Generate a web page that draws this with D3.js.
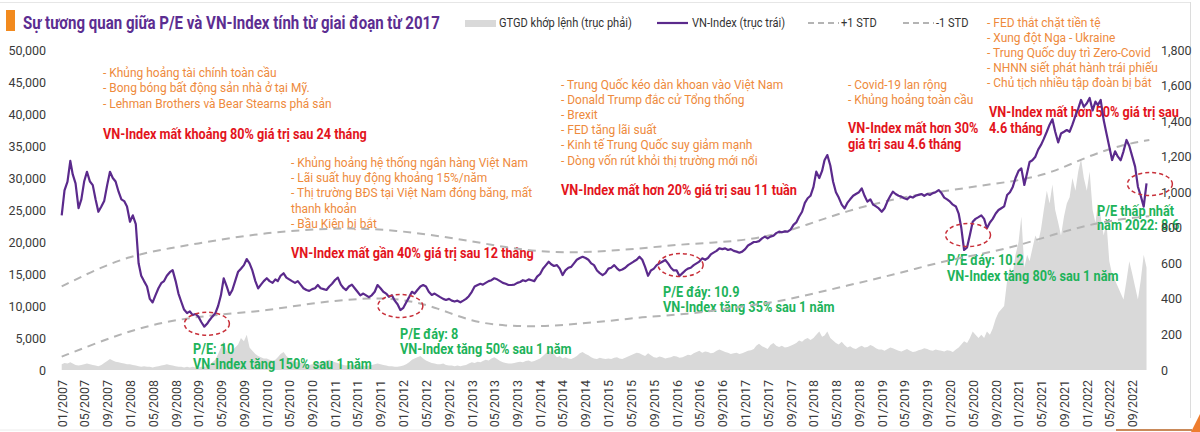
<!DOCTYPE html>
<html><head><meta charset="utf-8">
<script src="https://cdn.jsdelivr.net/npm/d3@7"></script>
<style>
body{margin:0;background:#fff;}
svg text{font-family:Roboto,"Noto Sans",sans-serif;}
</style></head><body>
<svg id="chart" width="1200" height="432"></svg>
<script>
// ---------------- DATA (semi-monthly from 01/2007) ----------------
const vnIndex = [
870,1010,1060,1176,1100,1050,911,960,1060,1115,1060,1040,960,890,920,950,1040,1115,1080,1060,1003,960,950,920,
834,870,820,600,530,500,470,400,380,420,460,488,500,530,550,562,500,430,384,340,320,330,309,315,
300,270,244,260,280,300,319,360,420,516,470,422,450,500,553,570,590,624,600,560,500,459,480,500,
516,500,490,510,500,530,544,520,510,500,490,500,480,460,450,445,455,460,478,460,455,450,470,485,
506,520,480,460,450,470,480,460,440,420,430,420,410,420,440,478,460,440,430,412,420,390,370,337,
350,380,410,440,430,450,470,478,470,440,422,430,420,410,400,394,400,390,385,390,381,390,400,415,
440,470,478,485,480,490,500,505,516,510,500,490,485,478,478,480,490,495,505,500,510,505,500,525,
540,570,590,609,595,585,590,570,534,560,575,580,600,620,630,637,630,620,600,590,560,545,534,545,
570,575,590,572,560,565,575,590,600,610,620,637,620,580,530,560,570,590,600,609,619,600,575,560,
560,529,545,560,570,575,590,600,610,628,620,630,650,660,670,684,680,684,675,680,670,666,660,666,
680,700,710,720,720,725,740,750,740,750,755,770,778,775,780,778,790,816,830,862,890,940,966,980,
1030,1116,1080,1120,1180,1209,1150,1059,1000,970,930,909,940,960,980,990,1000,1022,980,947,960,930,920,909,
890,910,950,980,1003,990,980,975,966,960,975,970,980,985,990,980,990,985,995,1000,1012,995,970,960,
947,930,920,880,800,675,690,760,834,850,860,870,850,797,830,850,880,900,910,920,984,1000,1030,1080,
1120,1134,1041,1110,1170,1180,1200,1240,1266,1300,1340,1380,1410,1340,1280,1330,1340,1350,1340,1380,1430,1470,1519,1480,
1500,1530,1460,1510,1490,1519,1406,1330,1256,1181,1230,1200,1180,1230,1294,1260,1200,1144,1031,980,919,1050
];
const gtgd = [
900,1100,1000,1200,1000,800,700,800,900,1000,900,800,700,600,800,1100,1400,1700,1500,1300,1200,1100,1000,900,
900,800,700,600,500,600,500,500,400,500,600,700,800,900,800,700,600,500,500,400,500,400,500,400,
400,500,500,600,800,1200,1600,2500,3500,4500,3000,2500,3000,3500,4000,5000,4500,5500,3500,3000,2500,2200,2000,1800,
1800,1600,1500,1600,2000,2500,2800,2200,1800,1500,1300,1200,1100,1000,900,800,900,1000,1100,1000,1200,1500,1600,1400,
1200,1100,900,800,700,800,900,700,600,600,700,600,700,800,900,1000,900,800,700,600,600,500,500,600,
700,900,1200,1600,1800,2000,2200,1800,1500,1300,1100,1000,900,900,1000,800,700,700,600,700,600,700,800,1000,
1200,1100,1300,1200,1400,1600,1500,1800,2000,1700,1400,1200,1100,1000,1000,1100,1200,1300,1200,1400,1500,1300,1400,1600,
1800,2200,2600,3000,2800,2500,2000,2200,1800,2000,1800,1700,1900,2200,2600,2800,2500,2300,2000,1800,1700,1900,1800,1700,
1800,1700,1900,2000,1800,1700,1900,2100,2300,2500,2700,2600,2400,2200,2600,2300,2000,1900,2100,2000,1800,1900,2000,2200,
2100,1900,2000,2200,2400,2300,2600,2800,3000,2700,2900,2800,2600,2700,3000,3200,3000,2800,2700,2500,2600,2700,2500,2600,
2800,3000,3100,3300,3800,4100,3700,3500,3300,3900,4200,3800,3600,3800,3500,3600,3800,4000,4200,4600,4400,4800,5000,4700,
5000,5500,6000,5200,5400,6000,5000,4600,4200,4000,4400,3900,3500,3700,3400,3300,3600,3800,3500,3600,3900,3700,3400,3200,
3200,3000,3300,3500,3400,3200,3000,2900,3100,3300,3000,2800,2900,3100,3200,3400,3300,3100,3000,3200,3100,3000,2900,3100,
3000,2800,3200,3500,4000,4500,4200,5000,6000,5500,5000,5500,5000,6000,5500,6500,8000,9000,9500,10000,14000,16000,15000,18000,
20000,24000,16000,18000,17000,19000,21000,20000,22000,25000,28000,26000,29000,25000,23000,21000,24000,26000,27000,30000,28000,31000,33000,30000,
28000,31000,25000,23000,26000,24000,21000,23000,17000,15000,14000,13000,12000,11000,14000,17000,15000,13000,11000,14000,18000,16000
];
// +/-1 STD bands (VN-Index points), months since 01/2007
const stdMonths = [0,6,12,18,24,30,36,42,48,54,60,66,72,78,84,90,96,102,108,114,120,126,132,138,144,150,156,162,168,174,180,186,191];
const plusStd  = [470,565,640,680,712,745,770,787,797,795,780,755,724,690,665,660,670,684,705,715,730,765,830,895,945,985,1010,1040,1065,1110,1200,1265,1294];
const minusStd = [75,150,220,270,300,318,335,366,390,405,400,350,270,248,244,258,275,298,310,330,360,385,430,475,520,570,620,655,700,760,815,850,865];
const leftTicks  = [0,5000,10000,15000,20000,25000,30000,35000,40000,45000,50000];
const rightTicks = [0,200,400,600,800,1000,1200,1400,1600,1800];
// highlighted troughs: [year, month(0-based), day, VN-Index level]
const troughs = [[2009,1,15,260],[2011,11,16,360],[2016,0,22,590],[2020,3,6,759],[2022,11,4,1046]];

const titleText = "Sự tương quan giữa P/E và VN-Index tính từ giai đoạn từ 2017";
const legendItems = ["GTGD khớp lệnh (trục phải)","VN-Index (trục trái)","+1 STD","-1 STD"];

// ---------------- LAYOUT ----------------
const svg = d3.select("#chart");
const dates = vnIndex.map((_, i) => new Date(2007, Math.floor(i / 2), i % 2 ? 16 : 1));
const x = d3.scaleTime().domain([new Date(2007,0,1), new Date(2022,8,1)]).range([61.7, 1132.3]);
const yL = d3.scaleLinear().domain([0,50000]).range([370,50]);
const yR = d3.scaleLinear().domain([0,1800]).range([370,50]);

// horizontal condensing of a text selection so that refText gets width target
function calibrate(sel, refText, target){
  let ratio = 1;
  sel.each(function(){ if (this.textContent === refText) ratio = target / this.getComputedTextLength(); });
  sel.each(function(){
    const px = +this.getAttribute("x");
    d3.select(this).attr("transform", `translate(${px},0) scale(${ratio},1) translate(${-px},0)`);
  });
}

// frame decorations
svg.append("line").attr("x1",0).attr("x2",1190).attr("y1",2.5).attr("y2",2.5).attr("stroke","#e6e6e6");
svg.append("line").attr("x1",1190.5).attr("x2",1190.5).attr("y1",2).attr("y2",418).attr("stroke","#dcdcdc");
svg.append("line").attr("x1",0).attr("x2",1116).attr("y1",430).attr("y2",430).attr("stroke","#ececec");
svg.append("line").attr("x1",1116).attr("x2",1192).attr("y1",430).attr("y2",430).attr("stroke","#c98a5a").attr("stroke-width",2);
svg.append("polygon").attr("points","1200,414 1200,432 1191,432").attr("fill","#ee7d2f");

// GTGD area
svg.append("path").datum(gtgd)
  .attr("fill","#d9d9d9")
  .attr("d", d3.area().x((d,i)=>x(dates[i])).y0(yL(0)).y1(d=>yL(d)));

// ---------------- annotations ----------------
const annG = svg.append("g");
function block(cls, px, py, step, lines){
  lines.forEach((t,k)=>{
    annG.append("text").attr("class",cls).attr("x",px).attr("y",py+k*step).attr("dy","0.35em").text(t);
  });
}
block("or", 103, 72, 15.5, ["- Khủng hoảng tài chính toàn cầu","- Bong bóng bất động sản nhà ở tại Mỹ.","- Lehman Brothers và Bear Stearns phá sản"]);
block("rd", 103, 134, 16, ["VN-Index mất khoảng 80% giá trị sau 24 tháng"]);
block("or", 291, 162, 15.3, ["- Khủng hoảng hệ thống ngân hàng Việt Nam","- Lãi suất huy động khoảng 15%/năm","- Thị trường BĐS tại Việt Nam đóng băng, mất","thanh khoản","- Bầu Kiên bị bắt"]);
block("rd", 291, 253, 16, ["VN-Index mất gần 40% giá trị sau 12 tháng"]);
block("or", 561, 84.3, 15.1, ["- Trung Quốc kéo dàn khoan vào Việt Nam","- Donald Trump đắc cử Tổng thống","- Brexit","- FED tăng lãi suất","- Kinh tế Trung Quốc suy giảm mạnh","- Dòng vốn rút khỏi thị trường mới nổi"]);
block("rd", 561, 190, 16, ["VN-Index mất hơn 20% giá trị sau 11 tuần"]);
block("or", 848, 84, 15.2, ["- Covid-19 lan rộng","- Khủng hoảng toàn cầu"]);
block("rd", 848, 128.3, 16, ["VN-Index mất hơn 30%","giá trị sau 4.6 tháng"]);
block("or", 987, 22.5, 15, ["- FED thắt chặt tiền tệ","- Xung đột Nga - Ukraine","- Trung Quốc duy trì Zero-Covid","- NHNN siết phát hành trái phiếu","- Chủ tịch nhiều tập đoàn bị bắt"]);
block("rd", 989, 112, 15.7, ["VN-Index mất hơn 50% giá trị sau","4.6 tháng"]);
block("gr", 193, 349.3, 15, ["P/E: 10","VN-Index tăng 150% sau 1 năm"]);
block("gr", 400, 334, 15.3, ["P/E đáy: 8","VN-Index tăng 50% sau 1 năm"]);
block("gr", 663, 291.7, 15, ["P/E đáy: 10.9","VN-Index tăng 35% sau 1 năm"]);
block("gr", 947, 260, 16, ["P/E đáy: 10.2","VN-Index tăng 80% sau 1 năm"]);
block("gr", 1097, 210.7, 14.5, ["P/E thấp nhất","năm 2022: 8.6"]);

annG.selectAll("text.or").attr("fill","#ee8a3c").attr("font-size","13.5px");
annG.selectAll("text.rd").attr("fill","#e3141c").attr("font-size","14px").attr("font-weight","bold");
annG.selectAll("text.gr").attr("fill","#1db35a").attr("font-size","14px").attr("font-weight","bold");

calibrate(annG.selectAll("text.or"), "- Khủng hoảng hệ thống ngân hàng Việt Nam", 237);
calibrate(annG.selectAll("text.rd"), "VN-Index mất khoảng 80% giá trị sau 24 tháng", 264);
calibrate(annG.selectAll("text.gr"), "VN-Index tăng 150% sau 1 năm", 179);

// STD bands
const stdLine = arr => d3.line().curve(d3.curveBasis)
  .x((d,i)=>x(new Date(2007, stdMonths[i], 1))).y(d=>yR(d))(arr);
[plusStd, minusStd].forEach(a=>{
  svg.append("path").attr("d", stdLine(a)).attr("fill","none")
    .attr("stroke","#b4b4b4").attr("stroke-width",2).attr("stroke-dasharray","8,6");
});

// VN-Index line
svg.append("path").datum(vnIndex)
  .attr("fill","none").attr("stroke","#5b2a8c").attr("stroke-width",2.2).attr("stroke-linejoin","round")
  .attr("d", d3.line().x((d,i)=>x(dates[i])).y(d=>yR(d)));

// trough ellipses
svg.selectAll("ellipse.tr").data(troughs).join("ellipse").attr("class","tr")
  .attr("cx", d=>x(new Date(d[0],d[1],d[2]))).attr("cy", d=>yR(d[3]))
  .attr("rx",22.5).attr("ry",11.5).attr("fill","none")
  .attr("stroke","#c8303a").attr("stroke-width",1.5).attr("stroke-dasharray","4,3");

// ---------------- axes ----------------
const axL = svg.append("g").attr("transform","translate(46,0)")
  .call(d3.axisLeft(yL).tickValues(leftTicks).tickFormat(d3.format(",")).tickSize(0).tickPadding(0));
const axR = svg.append("g").attr("transform","translate(1161,0)")
  .call(d3.axisRight(yR).tickValues(rightTicks).tickFormat(d3.format(",")).tickSize(0).tickPadding(0));
const axB = svg.append("g").attr("transform","translate(0,380)")
  .call(d3.axisBottom(x).ticks(d3.timeMonth.every(4)).tickFormat(d3.timeFormat("%m/%Y")).tickSize(0).tickPadding(0));
[axL,axR,axB].forEach(a=>{ a.select(".domain").remove(); a.selectAll("text").attr("fill","#3a3a3a").attr("font-size","12.5px").attr("font-family","Roboto, sans-serif"); });
axB.selectAll("text").attr("transform","rotate(-90)").attr("text-anchor","end").attr("x",0).attr("y",0).attr("dy","0.35em");

// ---------------- title & legend ----------------
svg.append("rect").attr("x",6).attr("y",10).attr("width",9).attr("height",21).attr("fill","#f28a1e");
const title = svg.append("text").attr("class","ttl").attr("x",23).attr("y",22).attr("dy","0.35em")
  .attr("fill","#5c2d91").attr("font-size","19px").attr("font-weight","bold").text(titleText);
calibrate(svg.selectAll("text.ttl"), titleText, 417);

const lg = svg.append("g");
lg.append("rect").attr("x",465).attr("y",20).attr("width",31).attr("height",7).attr("fill","#d9d9d9");
lg.append("line").attr("x1",657).attr("x2",688).attr("y1",23).attr("y2",23).attr("stroke","#5b2a8c").attr("stroke-width",2.2);
lg.append("line").attr("x1",808).attr("x2",839).attr("y1",23).attr("y2",23).attr("stroke","#b4b4b4").attr("stroke-width",2).attr("stroke-dasharray","6,4");
lg.append("line").attr("x1",903).attr("x2",934).attr("y1",23).attr("y2",23).attr("stroke","#b4b4b4").attr("stroke-width",2).attr("stroke-dasharray","6,4");
const lgX = [499, 692, 841, 936];
legendItems.forEach((t,i)=>{
  lg.append("text").attr("class","lt").attr("x",lgX[i]).attr("y",23).attr("dy","0.35em")
    .attr("fill","#333").attr("font-size","12.5px").text(t);
});
calibrate(lg.selectAll("text.lt"), "GTGD khớp lệnh (trục phải)", 133);
</script>
</body></html>
